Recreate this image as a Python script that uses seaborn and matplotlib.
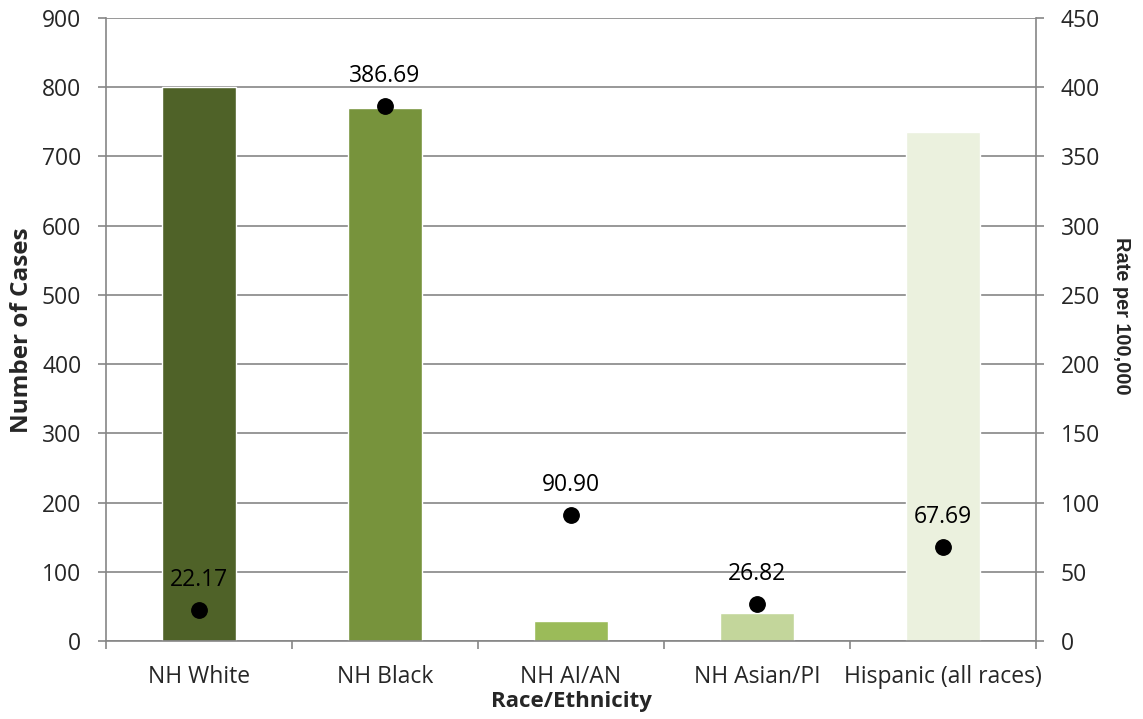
import matplotlib
matplotlib.use("Agg")
import matplotlib.pyplot as plt
import seaborn as sns
import pandas as pd
from matplotlib.ticker import FixedLocator, NullFormatter

# Data
categories = ["NH White", "NH Black", "NH AI/AN", "NH Asian/PI", "Hispanic (all races)"]
cases = [800, 770, 29, 41, 736]
rates = [22.17, 386.69, 90.90, 26.82, 67.69]
bar_colors = ["#4F6228", "#77933C", "#9BBB59", "#C3D69B", "#EBF1DE"]

df = pd.DataFrame({"group": categories, "cases": cases, "rate": rates})

sns.set_theme(style="white")
plt.rcParams["font.family"] = ["Open Sans", "DejaVu Sans"]

fig = plt.figure(figsize=(11.43, 7.19), dpi=100)
ax = fig.add_axes([106 / 1143, 1 - 641 / 719, 930 / 1143, 623 / 719])

grid_c = "#868686"
tick_fs = 16.5
sns.barplot(data=df, x="group", y="cases", hue="group", palette=bar_colors,
            width=0.40, legend=False, ax=ax, saturation=1, zorder=2)
ax.set_ylim(0, 900)
ax.set_xlim(-0.5, len(categories) - 0.5)
ax.set_yticks(range(0, 901, 100))
ax.yaxis.grid(True, color=grid_c, linewidth=1.2, zorder=0)
ax.set_axisbelow(True)

for side in ["left", "bottom", "right"]:
    ax.spines[side].set_visible(True)
    ax.spines[side].set_color(grid_c)
    ax.spines[side].set_linewidth(1.2)
ax.spines["top"].set_visible(False)

ax.tick_params(axis="y", which="major", direction="out", length=5.8, width=1.2,
               color=grid_c, labelsize=tick_fs, pad=12, left=True)
ax.tick_params(axis="x", which="major", length=0, labelsize=tick_fs, pad=17)
ax.xaxis.set_minor_locator(FixedLocator([i - 0.5 for i in range(len(categories) + 1)]))
ax.xaxis.set_minor_formatter(NullFormatter())
ax.tick_params(axis="x", which="minor", direction="out", length=5.8, width=1.2,
               color=grid_c, bottom=True)

ax.set_xlabel("Race/Ethnicity", fontsize=16, fontweight="bold", labelpad=2)
ax.set_ylabel("Number of Cases", fontsize=17.5, fontweight="bold", va="center")
ax.yaxis.set_label_coords(-84 / 930, (641 - 330) / 623)

# Rate axis
ax2 = ax.twinx()
ax2.set_ylim(0, 450)
ax2.set_yticks(range(0, 451, 50))
sns.scatterplot(data=df, x="group", y="rate", color="black", s=125,
                edgecolor="black", ax=ax2, zorder=5)
ax2.set_xlim(-0.5, len(categories) - 0.5)
for s in ax2.spines.values():
    s.set_visible(False)
ax2.tick_params(axis="y", direction="out", length=5.8, width=1.2, color=grid_c,
                labelsize=tick_fs, pad=12, right=True)
ax2.set_ylabel("Rate per 100,000", fontsize=14.4, fontweight="bold",
               family=["Liberation Sans", "DejaVu Sans"], rotation=270,
               va="center")
ax2.yaxis.set_label_coords(1 + 86 / 930, (641 - 316) / 623)

for i, r in enumerate(rates):
    ax2.annotate(f"{r:.2f}", (i, r), xytext=(0, 13), textcoords="offset points",
                 ha="center", va="bottom", fontsize=tick_fs, color="black")

fig.savefig("out.png", dpi=100, facecolor="white")
